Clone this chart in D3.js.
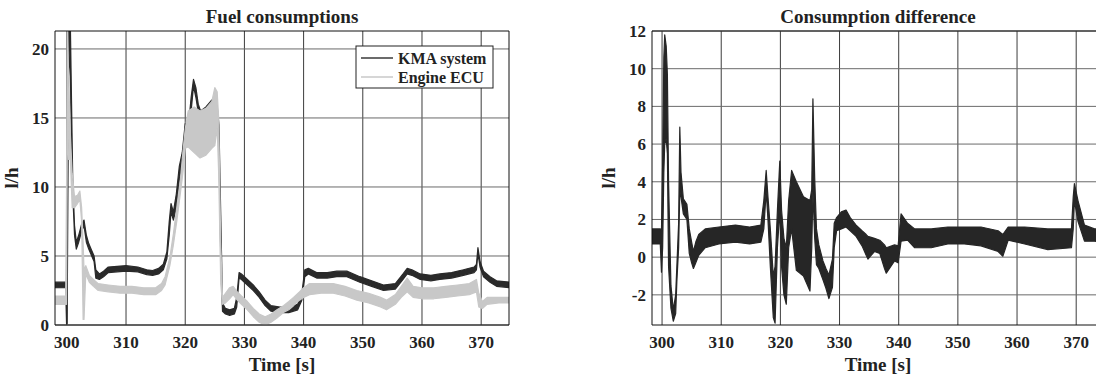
<!DOCTYPE html>
<html>
<head>
<meta charset="utf-8">
<script src="https://cdn.jsdelivr.net/npm/d3@7"></script>
<style>
  body { margin: 0; background: #fff; }
  text { font-family: "Liberation Serif", "Times New Roman", serif; font-weight: bold; fill: #222; }
</style>
</head>
<body>
<svg id="chart" width="1096" height="378"></svg>
<script>
// [time, low, high] envelopes of the noisy signals
const kmaBand = [
  [298.0, 2.7, 3.1], [299.0, 2.7, 3.1], [299.8, 2.7, 3.1], [299.95, 0.1, 3.0],
  [300.05, 0.1, 6], [300.3, 18, 23], [300.55, 20, 23], [300.8, 12, 16],
  [301.0, 9.5, 10.5], [301.3, 6.5, 7.2], [301.6, 5.5, 6.0], [302.0, 6.0, 6.5],
  [302.5, 6.8, 7.3], [302.9, 7.2, 7.6], [303.3, 6.0, 6.5], [303.7, 5.5, 5.9],
  [304.2, 5.0, 5.4], [304.6, 4.6, 5.0], [304.9, 3.4, 4.0], [305.5, 3.3, 3.7],
  [306.2, 3.5, 3.9], [307.0, 3.8, 4.2], [308.5, 3.85, 4.25], [310, 3.9, 4.3],
  [312, 3.85, 4.2], [313.5, 3.65, 4.0], [314.5, 3.6, 3.95], [315.5, 3.7, 4.1],
  [316.3, 4.0, 4.4], [316.9, 4.8, 5.3], [317.3, 6.5, 7.5], [317.6, 8.2, 8.8],
  [318.0, 7.6, 8.2], [318.5, 8.5, 9.5], [319.0, 10.5, 11.5], [319.5, 11.8, 12.5],
  [320.0, 14.0, 14.6], [320.5, 13.6, 14.2], [321.0, 15.5, 16.5], [321.4, 17.3, 17.8],
  [321.8, 16.5, 17.2], [322.2, 15.4, 16.0], [322.6, 15.0, 15.5], [323.5, 15.2, 15.8],
  [324.5, 15.8, 16.3], [325.0, 15.8, 16.3], [325.4, 15.3, 15.8], [325.7, 13.0, 14.5],
  [326.0, 5, 8], [326.3, 1.0, 1.6], [326.8, 0.8, 1.2], [327.5, 0.7, 1.1],
  [328.3, 0.8, 1.2], [328.7, 1.3, 2.0], [329.1, 3.4, 3.8], [329.5, 3.3, 3.7],
  [330.5, 2.9, 3.3], [331.5, 2.5, 2.9], [332.5, 2.0, 2.4], [333.5, 1.4, 1.8],
  [334.5, 1.0, 1.4], [336, 0.9, 1.3], [337.5, 0.9, 1.3], [339.0, 1.1, 1.5],
  [339.7, 1.8, 2.3], [340.2, 3.5, 4.0], [340.8, 3.7, 4.1], [342.2, 3.4, 3.8],
  [344, 3.4, 3.8], [345.6, 3.5, 3.9], [347.3, 3.5, 3.9], [349.5, 3.1, 3.5],
  [351.5, 2.8, 3.2], [353.5, 2.5, 2.9], [355.5, 2.6, 3.0], [356.8, 3.3, 3.7],
  [357.5, 3.7, 4.1], [358.3, 3.6, 4.0], [359.7, 3.3, 3.7], [361.5, 3.2, 3.6],
  [363.0, 3.3, 3.7], [365, 3.4, 3.8], [367, 3.6, 4.0], [368.8, 3.8, 4.2],
  [369.2, 4.0, 4.4], [369.45, 5.2, 5.6], [369.8, 4.2, 4.6], [370.4, 3.5, 3.9],
  [371.5, 3.1, 3.5], [372.6, 2.8, 3.2], [375.0, 2.7, 3.1]
];

const ecuBand = [
  [298.0, 1.5, 2.1], [299.8, 1.5, 2.1], [299.95, 1.5, 10], [300.1, 15, 22.5],
  [300.3, 12, 18], [300.6, 12, 13.8], [300.9, 8.5, 11], [301.3, 8.5, 9.3],
  [301.8, 8.8, 9.4], [302.2, 9.1, 9.7], [302.5, 7.5, 8.5], [302.75, 0.4, 6],
  [302.9, 0.4, 4], [303.2, 3.7, 4.3], [303.8, 3.1, 3.6], [304.5, 2.8, 3.3],
  [305.3, 2.5, 3.0], [307, 2.4, 2.9], [309, 2.3, 2.8], [311, 2.3, 2.8],
  [313, 2.2, 2.7], [315, 2.2, 2.7], [316, 2.5, 3.0], [316.6, 2.9, 3.5],
  [317.4, 4.3, 4.9], [318.0, 5.8, 6.6], [318.6, 7.6, 8.6], [319.2, 9.6, 10.6],
  [319.6, 11, 12.5], [320.0, 12.8, 14.2], [320.5, 12.9, 15.5], [321.5, 12.5, 15.8],
  [322.5, 12.1, 15.5], [323.5, 12.3, 15.7], [324.5, 12.8, 16.2], [325.0, 13.0, 17.2],
  [325.4, 14.3, 16.9], [325.65, 11, 15], [326.0, 3, 6], [326.3, 1.5, 2.0],
  [326.8, 1.6, 2.3], [327.5, 1.9, 2.7], [328.1, 2.2, 2.8], [328.8, 1.8, 2.4],
  [329.5, 1.5, 2.1], [330.5, 1.1, 1.7], [331.5, 0.6, 1.2], [332.5, 0.2, 0.8],
  [333.5, 0.0, 0.6], [334.5, 0.2, 0.8], [335.5, 0.5, 1.1], [336.6, 0.9, 1.4],
  [337.5, 1.1, 1.7], [338.3, 1.4, 2.0], [339.3, 1.8, 2.4], [340.0, 2.0, 2.7],
  [341, 2.2, 3.0], [343, 2.3, 3.0], [345, 2.3, 3.0], [347, 2.1, 2.8],
  [349, 1.8, 2.5], [351, 1.6, 2.3], [353, 1.3, 2.0], [354, 1.1, 1.8],
  [355.5, 1.5, 2.2], [356.5, 2.0, 2.8], [357.5, 2.4, 3.4], [358.5, 2.0, 2.8],
  [360, 1.9, 2.7], [362, 1.9, 2.7], [364, 2.0, 2.8], [366, 2.1, 2.9],
  [368, 2.2, 3.0], [369.2, 2.4, 3.3], [369.6, 1.3, 2.3], [370.2, 1.2, 1.7],
  [371, 1.5, 2.0], [373, 1.6, 2.0], [375, 1.6, 2.0]
];

const diffBand = [
  [298.3, 0.7, 1.5], [299.7, 0.7, 1.5], [299.9, -0.8, 1.4], [300.1, 0.5, 5],
  [300.3, 4.5, 10.6], [300.45, 6, 11.8], [300.7, 6.3, 11.2], [300.9, 5.5, 9.7],
  [301.1, -0.5, 4], [301.5, -2.7, -1.5], [301.9, -3.4, -2.8], [302.3, -3.0, -2.0],
  [302.5, -1.3, -0.5], [302.8, 0.5, 1.8], [303.0, 3.5, 6.9], [303.2, 3.2, 4.5],
  [303.6, 2.3, 3.1], [304.2, 2.0, 2.8], [304.6, 0.2, 1.5], [305.0, -0.3, 0.8],
  [305.3, -0.6, 0.3], [305.7, -0.3, 0.8], [306.2, 0.1, 1.2], [307.3, 0.5, 1.5],
  [309.6, 0.7, 1.6], [312.4, 0.8, 1.7], [314.8, 0.7, 1.6], [316.7, 0.8, 1.7],
  [317.2, 1.5, 3.0], [317.6, 3.5, 4.6], [317.9, 2.0, 3.2], [318.3, -0.5, 1.5],
  [318.8, -3.2, -1.0], [319.1, -3.5, -0.5], [319.5, 0.5, 2.5], [319.9, 2.5, 5.1],
  [320.2, -0.5, 2.5], [320.6, -2.0, 1.0], [321.0, -2.5, 0.5], [321.4, 0.5, 3.0],
  [321.9, 1.5, 4.6], [322.7, -0.7, 4.0], [323.9, -1.0, 3.2], [325.0, -1.8, 3.0],
  [325.3, 0.5, 3.6], [325.5, 3.5, 8.4], [325.8, 1.0, 4.2], [326.1, -0.4, 1.5],
  [326.5, -0.6, 0.65], [327.2, -1.2, -0.2], [327.7, -1.65, -0.6], [328.2, -2.2, -0.95],
  [328.8, -1.6, -0.1], [329.1, 0.5, 1.8], [329.5, 1.4, 2.1], [330.3, 1.5, 2.4],
  [331.1, 1.6, 2.5], [331.8, 1.4, 2.1], [332.8, 1.1, 1.7], [333.8, 0.6, 1.4],
  [334.5, 0.1, 1.2], [334.8, -0.1, 1.1], [335.9, 0.3, 1.0], [336.8, 0.2, 0.9],
  [337.6, -0.6, 0.65], [337.9, -0.85, 0.5], [339.3, -0.2, 0.65], [339.9, -0.3, 0.6],
  [340.4, 0.85, 2.3], [341.5, 0.9, 1.8], [342.7, 0.5, 1.5], [345.5, 0.5, 1.5],
  [348.3, 0.7, 1.6], [351.1, 0.7, 1.6], [353.9, 0.6, 1.6], [356.8, 0.3, 1.4],
  [357.6, 0.05, 1.2], [358.5, 0.9, 1.6], [361.3, 0.7, 1.6], [365.2, 0.4, 1.5],
  [369.2, 0.5, 1.5], [369.5, 1.5, 3.2], [369.7, 3.0, 3.9], [370.3, 1.9, 3.0],
  [371.4, 0.85, 1.7], [373.1, 0.85, 1.5], [374.7, 0.8, 1.5]
];

const timeTicks = [300, 310, 320, 330, 340, 350, 360, 370];
const fuelTicks = [0, 5, 10, 15, 20];
const diffTicks = [-2, 0, 2, 4, 6, 8, 10, 12];
const legendNames = ['KMA system', 'Engine ECU'];
const legendColors = ['#3a3a3a', '#c8c8c8'];

const svg = d3.select('#chart');

function drawPanel(cfg) {
  const x = d3.scaleLinear().domain(cfg.xDomain).range([cfg.left, cfg.right]);
  const y = d3.scaleLinear().domain(cfg.yDomain).range([cfg.bottom, cfg.top]);
  const g = svg.append('g');

  const clipId = 'clip-' + cfg.id;
  g.append('clipPath').attr('id', clipId)
    .append('rect')
    .attr('x', cfg.left).attr('y', cfg.top)
    .attr('width', cfg.right - cfg.left).attr('height', cfg.bottom - cfg.top);

  // grid
  g.append('g')
    .selectAll('line')
    .data(timeTicks)
    .enter().append('line')
      .attr('x1', (d) => x(d)).attr('x2', (d) => x(d))
      .attr('y1', cfg.top).attr('y2', cfg.bottom)
      .attr('stroke', '#3c3c3c').attr('stroke-width', 1);

  g.append('g')
    .selectAll('line')
    .data(cfg.yTicks)
    .enter().append('line')
      .attr('x1', cfg.left).attr('x2', cfg.right)
      .attr('y1', (d) => y(d)).attr('y2', (d) => y(d))
      .attr('stroke', '#6a6a6a').attr('stroke-width', 1);

  // signals
  const area = d3.area()
    .x((d) => x(d[0]))
    .y0((d) => y(d[1]))
    .y1((d) => y(d[2]));

  const plot = g.append('g').attr('clip-path', `url(#${clipId})`);
  cfg.series.forEach((s) => {
    plot.append('path')
      .datum(s.data)
      .attr('d', area)
      .attr('fill', s.color)
      .attr('stroke', s.color)
      .attr('stroke-width', 1.2)
      .attr('stroke-linejoin', 'round');
  });

  // axes box
  g.append('line')
    .attr('x1', cfg.left).attr('x2', cfg.left)
    .attr('y1', cfg.top).attr('y2', cfg.bottom)
    .attr('stroke', '#111');
  g.append('line')
    .attr('x1', cfg.left).attr('x2', cfg.right)
    .attr('y1', cfg.bottom).attr('y2', cfg.bottom)
    .attr('stroke', '#111');
  g.append('line')
    .attr('x1', cfg.left).attr('x2', cfg.right)
    .attr('y1', cfg.top).attr('y2', cfg.top)
    .attr('stroke', '#111');
  g.append('line')
    .attr('x1', cfg.right).attr('x2', cfg.right)
    .attr('y1', cfg.top).attr('y2', cfg.bottom)
    .attr('stroke', '#111');

  // tick labels
  g.append('g')
    .selectAll('text')
    .data(timeTicks)
    .enter().append('text')
      .attr('x', (d) => x(d))
      .attr('y', cfg.bottom + 23)
      .attr('text-anchor', 'middle')
      .style('font-size', '17px')
      .text((d) => d);

  g.append('g')
    .selectAll('text')
    .data(cfg.yTicks)
    .enter().append('text')
      .attr('x', cfg.left - 6)
      .attr('y', (d) => y(d) + 6)
      .attr('text-anchor', 'end')
      .style('font-size', '17px')
      .text((d) => d);

  const mid = (cfg.left + cfg.right) / 2;
  g.append('text')
    .attr('x', mid).attr('y', 23)
    .attr('text-anchor', 'middle')
    .style('font-size', '19px')
    .text(cfg.title);

  g.append('text')
    .attr('x', (cfg.left + Math.min(cfg.right, 1096) * 0 + cfg.right) / 2)
    .attr('y', 371)
    .attr('text-anchor', 'middle')
    .style('font-size', '19px')
    .text('Time [s]');

  g.append('text')
    .attr('transform', `translate(${cfg.left - 37}, ${(cfg.top + cfg.bottom) / 2}) rotate(-90)`)
    .attr('text-anchor', 'middle')
    .style('font-size', '19px')
    .text('l/h');

  return { x, y, g };
}

drawPanel({
  id: 'fuel', left: 55, right: 509, top: 31, bottom: 325,
  xDomain: [298, 374.7], yDomain: [0, 21.3], yTicks: fuelTicks,
  title: 'Fuel consumptions',
  series: [
    { data: kmaBand, color: '#2a2a2a' },
    { data: ecuBand, color: '#c8c8c8' }
  ]
});

drawPanel({
  id: 'diff', left: 652, right: 1104, top: 31, bottom: 325,
  xDomain: [298.3, 374.7], yDomain: [-3.6, 12], yTicks: diffTicks,
  title: 'Consumption difference',
  series: [
    { data: diffBand, color: '#262626' }
  ]
});

// legend
const legend = svg.append('g');
legend.append('rect')
  .attr('x', 356).attr('y', 46)
  .attr('width', 137).attr('height', 42)
  .attr('fill', '#fff')
  .attr('stroke', '#222');

legend.selectAll('line')
  .data(legendNames)
  .enter().append('line')
    .attr('x1', 361).attr('x2', 393)
    .attr('y1', (d, i) => 58 + i * 19)
    .attr('y2', (d, i) => 58 + i * 19)
    .attr('stroke', (d, i) => legendColors[i])
    .attr('stroke-width', 1.5);

legend.selectAll('text')
  .data(legendNames)
  .enter().append('text')
    .attr('x', 398)
    .attr('y', (d, i) => 63.5 + i * 19)
    .style('font-size', '16px')
    .text((d) => d);
</script>
</body>
</html>
